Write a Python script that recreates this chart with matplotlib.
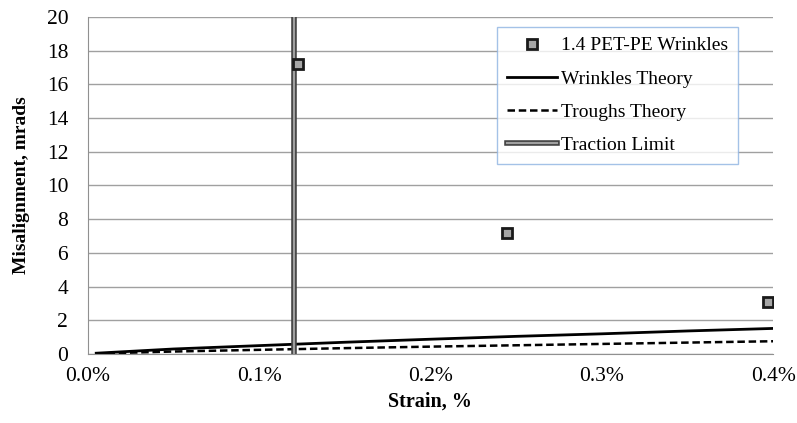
import matplotlib.pyplot as plt
import matplotlib.patheffects as pe
from matplotlib.ticker import PercentFormatter, MultipleLocator

plt.rcParams['font.family'] = ['Liberation Serif', 'DejaVu Serif']

# measured data
strain_meas = [0.001226, 0.00245, 0.00397]
misalign_meas = [17.2, 7.2, 3.1]

# theory curves
strain_th = [0.00005, 0.0005, 0.001, 0.0015, 0.002, 0.0025, 0.003, 0.0035, 0.004]
wrinkles_th = [0.05, 0.3, 0.5, 0.7, 0.88, 1.05, 1.2, 1.37, 1.52]
troughs_th = [0.03, 0.15, 0.25, 0.35, 0.44, 0.52, 0.6, 0.68, 0.76]

traction_x = 0.001203
traction_y = [0, 20]

fig = plt.figure(figsize=(7.97, 4.23), dpi=100, facecolor="white")
ax = fig.add_axes([0.110, 0.163, 0.860, 0.797])

ax.plot(strain_meas, misalign_meas, "s", ms=7, mfc="#a6a6a6", mec="#1a1a1a",
        mew=2, ls="none", label="1.4 PET-PE Wrinkles", zorder=5)
ax.plot(strain_th, wrinkles_th, "k-", lw=2, label="Wrinkles Theory")
ax.plot(strain_th, troughs_th, "k--", lw=1.8, dashes=(3, 1.5), label="Troughs Theory")
ax.plot([traction_x, traction_x], traction_y, color="#a0a0a0", lw=1.6,
        path_effects=[pe.Stroke(linewidth=4, foreground="#404040"), pe.Normal()],
        label="Traction Limit")

ax.set_xlim(0, 0.004)
ax.set_ylim(0, 20)
ax.xaxis.set_major_locator(MultipleLocator(0.001))
ax.xaxis.set_major_formatter(PercentFormatter(xmax=1, decimals=1))
ax.yaxis.set_major_locator(MultipleLocator(2))
ax.grid(axis="y", color="#a0a0a0", lw=1)
ax.set_axisbelow(True)
for s in ["top", "right"]:
    ax.spines[s].set_visible(False)
for s in ["left", "bottom"]:
    ax.spines[s].set_color("#909090")
ax.tick_params(length=0, labelsize=15.5)
ax.tick_params(axis="y", pad=14)
ax.tick_params(axis="x", pad=9)
ax.set_xlabel("Strain, %", fontsize=14.5, fontweight="bold", labelpad=4)
ax.set_ylabel("Misalignment, mrads", fontsize=14, fontweight="bold", labelpad=12)

leg = ax.legend(loc="upper left", bbox_to_anchor=(0.597, 0.970), fontsize=14,
                frameon=True, fancybox=False, handlelength=2.6, borderpad=0.5,
                labelspacing=0.8, handletextpad=0.2, borderaxespad=0)
leg.get_frame().set_edgecolor("#8db3e2")
leg.get_frame().set_linewidth(1)

fig.savefig("out.png", dpi=100, facecolor="white")
